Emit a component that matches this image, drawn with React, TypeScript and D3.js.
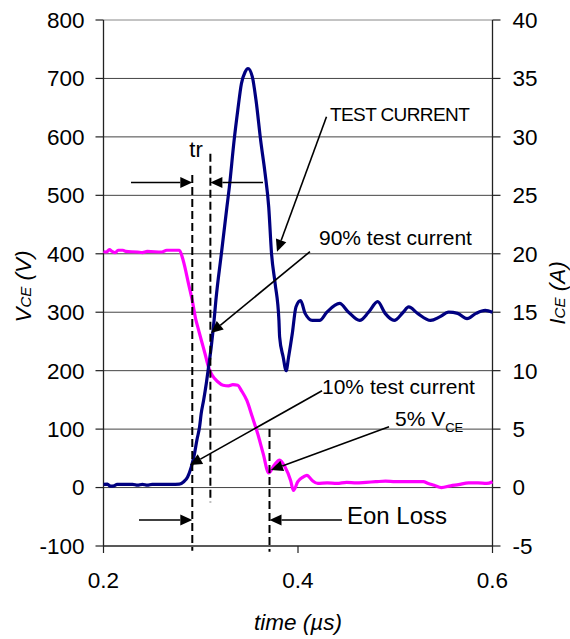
import React from "react";
import * as d3 from "d3";

// ---- data ----
const iceTime = [
  0.2, 0.204, 0.207, 0.211, 0.214, 0.23, 0.235, 0.24, 0.245, 0.25, 0.27, 0.278,
  0.2825, 0.2865, 0.2902, 0.2936, 0.296, 0.2988, 0.3005, 0.3029, 0.3057, 0.308,
  0.3108, 0.3137, 0.3156, 0.3212, 0.3269, 0.3294, 0.3343, 0.3381, 0.3418, 0.3456,
  0.3486, 0.353, 0.3568, 0.3616, 0.3662, 0.3699, 0.3728, 0.3765, 0.3804, 0.3811,
  0.3848, 0.3878, 0.3903, 0.3941, 0.3979, 0.4027, 0.4073, 0.4147, 0.4222, 0.4297,
  0.4428, 0.452, 0.4634, 0.4726, 0.4819, 0.4896, 0.4989, 0.5082, 0.5138, 0.523,
  0.5364, 0.5457, 0.5549, 0.5642, 0.5738, 0.5831, 0.5925, 0.6,
];
const iceAmps = [
  0.28, 0.3, 0.12, 0.15, 0.28, 0.28, 0.2, 0.28, 0.2, 0.28, 0.28, 0.3,
  0.5, 0.9, 1.75, 2.9, 4.05, 5.2, 6.35, 7.45, 8.9, 10.3,
  12.05, 14.3, 16.05, 20, 24, 25.7, 29.7, 32.3, 34.55, 35.55,
  35.85, 35.15, 33.15, 29.7, 26.85, 24, 20, 17.45, 14.3, 12.9,
  11.15, 10, 11.15, 13.15, 15.45, 16, 14.9, 14.3, 14.3, 15,
  15.75, 15, 14.3, 15, 15.9, 14.9, 14.3, 15, 15.45, 14.9,
  14.3, 14.6, 15, 14.9, 14.45, 14.9, 15.15, 15,
];

const vceTime = [
  0.2, 0.203, 0.206, 0.209, 0.212, 0.215, 0.22, 0.223, 0.235, 0.24, 0.245, 0.26,
  0.265, 0.275, 0.278, 0.2819, 0.2874, 0.2913, 0.2951, 0.2969, 0.3006, 0.3044,
  0.308, 0.3118, 0.3175, 0.323, 0.3286, 0.333, 0.3381, 0.3418, 0.3474, 0.353,
  0.3586, 0.3642, 0.3699, 0.3754, 0.3811, 0.3867, 0.3924, 0.3953, 0.3998, 0.4053,
  0.4091, 0.4147, 0.4204, 0.43, 0.44, 0.45, 0.46, 0.47, 0.48, 0.49, 0.5, 0.51,
  0.52, 0.5288, 0.534, 0.54, 0.5475, 0.557, 0.565, 0.5755, 0.585, 0.594, 0.6,
];
const vceVolts = [
  404, 403, 407, 404, 402, 406, 406, 404, 403, 402, 404, 403,
  406, 406, 406, 389, 349, 320, 286, 275, 252, 229,
  206, 192, 181, 175, 174, 176, 175, 166, 149, 121,
  92, 58, 25, 38, 47, 35, 12, -5, 10, 18,
  21, 12, 7, 8, 7, 9, 8, 9, 10, 11, 10, 10,
  10, 10, 7, 4, 0, 3, 5, 8, 8, 7, 10,
];

const leftTicks = [-100, 0, 100, 200, 300, 400, 500, 600, 700, 800];
const rightTicks = [-5, 0, 5, 10, 15, 20, 25, 30, 35, 40];
const timeTicks = [0.2, 0.4, 0.6];

// annotation anchors in data units (time µs, volts)
const trMarkers = [0.2913, 0.3099];
const eonMarkers = [0.2913, 0.3707];

const W = 570;
const H = 639;

export default function App() {
  const x = d3.scaleLinear().domain([0.2, 0.6]).range([103.5, 492.5]);
  const yL = d3.scaleLinear().domain([-100, 800]).range([546, 20]);
  const yR = d3.scaleLinear().domain([-5, 40]).range([546, 20]);

  const iceLine = d3
    .line<number>()
    .x((_, i) => x(iceTime[i]))
    .y((d) => yR(d))
    .curve(d3.curveMonotoneX);
  const vceLine = d3
    .line<number>()
    .x((_, i) => x(vceTime[i]))
    .y((d) => yL(d))
    .curve(d3.curveMonotoneX);

  const font = "Liberation Sans, Arial, sans-serif";

  // arrow with filled head at (t2, v2)
  const arrow = (t1: number, v1: number, t2: number, v2: number, key: string) => {
    const x1 = x(t1), y1 = yL(v1), x2 = x(t2), y2 = yL(v2);
    const ang = Math.atan2(y2 - y1, x2 - x1);
    const len = 12, hw = 5.5;
    const bx = x2 - len * Math.cos(ang), by = y2 - len * Math.sin(ang);
    const px = -Math.sin(ang) * hw, py = Math.cos(ang) * hw;
    return (
      <g key={key}>
        <line x1={x1} y1={y1} x2={bx} y2={by} stroke="#000" strokeWidth={1.6} />
        <polygon
          points={`${x2},${y2} ${bx + px},${by + py} ${bx - px},${by - py}`}
          fill="#000"
        />
      </g>
    );
  };

  return (
    <svg
      width={W}
      height={H}
      style={{ position: "absolute", left: 0, top: 0, background: "#fff" }}
      fontFamily={font}
    >
      <rect width={W} height={H} fill="#fff" />
      {/* gridlines */}
      {leftTicks
        .filter((v) => v > -100)
        .map((v) => (
          <line
            key={"g" + v}
            x1={x(0.2)}
            x2={x(0.6)}
            y1={yL(v)}
            y2={yL(v)}
            stroke={v === 800 ? "#888" : "#444"}
            strokeWidth={1}
          />
        ))}
      {/* axes */}
      <line x1={x(0.2)} x2={x(0.2)} y1={yL(800)} y2={yL(-100)} stroke="#222" strokeWidth={1.3} />
      <line x1={x(0.6)} x2={x(0.6)} y1={yL(800)} y2={yL(-100)} stroke="#222" strokeWidth={1.3} />
      <line x1={x(0.2)} x2={x(0.6)} y1={yL(-100)} y2={yL(-100)} stroke="#222" strokeWidth={1.3} />
      {leftTicks.map((v) => (
        <g key={"l" + v}>
          <line x1={x(0.2) - 8} x2={x(0.2)} y1={yL(v)} y2={yL(v)} stroke="#222" strokeWidth={1.2} />
          <text
            x={x(0.2) - 19}
            y={yL(v)}
            dy="0.35em"
            textAnchor="end"
            fontSize={22.5}
            fill="#000"
          >
            {v}
          </text>
        </g>
      ))}
      {rightTicks.map((v) => (
        <g key={"r" + v}>
          <line x1={x(0.6)} x2={x(0.6) + 8} y1={yR(v)} y2={yR(v)} stroke="#222" strokeWidth={1.2} />
          <text x={x(0.6) + 20} y={yR(v)} dy="0.35em" textAnchor="start" fontSize={22.5} fill="#000">
            {v}
          </text>
        </g>
      ))}
      {timeTicks.map((t) => (
        <g key={"t" + t}>
          <line x1={x(t)} x2={x(t)} y1={yL(-100)} y2={yL(-100) + 7} stroke="#222" strokeWidth={1.2} />
          <text x={x(t)} y={588} textAnchor="middle" fontSize={22.5} fill="#000">
            {t.toFixed(1)}
          </text>
        </g>
      ))}

      {/* axis titles */}
      <text x={x(0.4)} y={630} textAnchor="middle" fontSize={22.5} fontStyle="italic" fill="#000">
        time (µs)
      </text>
      <text
        transform={`translate(31,${286.5}) rotate(-90)`}
        textAnchor="middle"
        fontSize={22.5}
        fontStyle="italic"
        fill="#000"
      >
        V<tspan fontSize={15}>CE</tspan> (V)
      </text>
      <text
        transform={`translate(565,${293}) rotate(-90)`}
        textAnchor="middle"
        fontSize={22.5}
        fontStyle="italic"
        fill="#000"
      >
        I<tspan fontSize={15}>CE</tspan> (A)
      </text>

      {/* series */}
      <path d={vceLine(vceVolts) || ""} fill="none" stroke="#ff00ff" strokeWidth={3.2} strokeLinejoin="round" />
      <path d={iceLine(iceAmps) || ""} fill="none" stroke="#000080" strokeWidth={3.2} strokeLinejoin="round" />

      {/* dashed markers */}
      <line x1={x(trMarkers[0])} x2={x(trMarkers[0])} y1={yL(535)} y2={yL(-108)} stroke="#000" strokeWidth={2} strokeDasharray="8,4" />
      <line x1={x(trMarkers[1])} x2={x(trMarkers[1])} y1={yL(571)} y2={yL(-25)} stroke="#000" strokeWidth={2} strokeDasharray="8,4" />
      <line x1={x(eonMarkers[1])} x2={x(eonMarkers[1])} y1={yL(100)} y2={yL(-110)} stroke="#000" strokeWidth={2} strokeDasharray="8,4" />

      {/* tr */}
      <text x={x(0.2882)} y={yL(566)} fontSize={22} fill="#000">
        tr
      </text>
      {arrow(0.2283, 522, trMarkers[0], 522, "a1")}
      {arrow(0.364, 522, trMarkers[1], 522, "a2")}

      {/* Eon Loss */}
      {arrow(0.2365, -55.5, eonMarkers[0], -55.5, "a3")}
      {arrow(0.4452, -55.5, eonMarkers[1], -55.5, "a4")}
      <text x={x(0.4504)} y={yL(-62)} fontSize={24} fill="#000">
        Eon Loss
      </text>

      {/* TEST CURRENT */}
      <text x={x(0.4329)} y={yL(627)} fontSize={19} letterSpacing={-0.6} fill="#000">
        TEST CURRENT
      </text>
      {arrow(0.4293, 634.6, 0.3784, 403.6, "a5")}

      {/* 90% */}
      <text x={x(0.4216)} y={yL(415)} fontSize={21} fill="#000">
        90% test current
      </text>
      {arrow(0.4123, 403.6, 0.3105, 264.5, "a6")}

      {/* 10% */}
      <text x={x(0.4247)} y={yL(160)} fontSize={21} fill="#000">
        10% test current
      </text>
      {arrow(0.4247, 165.7, 0.2889, 38.6, "a7")}

      {/* 5% VCE */}
      <text x={x(0.4997)} y={yL(105)} fontSize={21} fill="#000">
        5% V<tspan fontSize={13} dy={6}>CE</tspan>
      </text>
      {arrow(0.4936, 104, 0.3722, 30, "a8")}
    </svg>
  );
}
